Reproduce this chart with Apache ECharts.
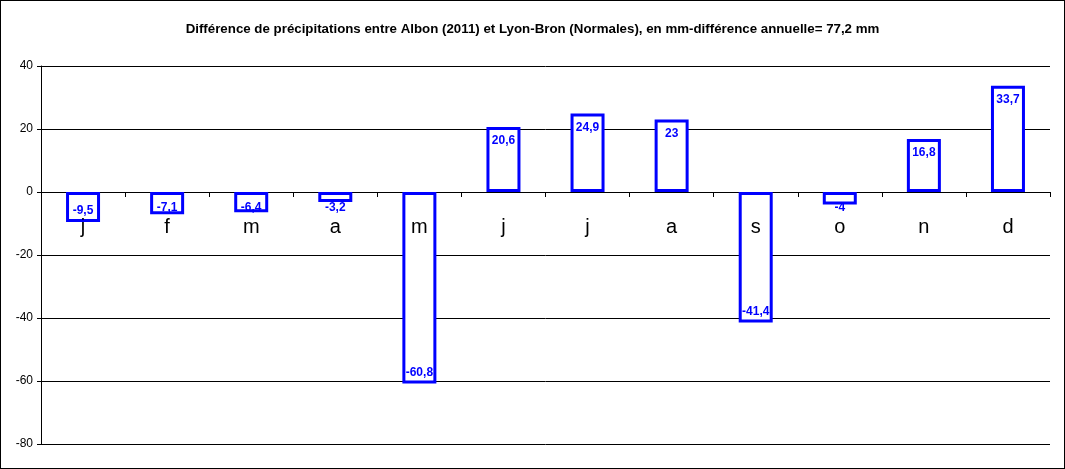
<!DOCTYPE html>
<html>
<head>
<meta charset="utf-8">
<script src="https://cdn.jsdelivr.net/npm/echarts@6/dist/echarts.min.js"></script>
<style>
html,body{margin:0;padding:0;background:#fff;}
#wrap{position:absolute;left:0;top:0;width:1063px;height:467px;border:1px solid #000;}
#c{width:1063px;height:467px;}
</style>
</head>
<body>
<div id="wrap"><div id="c"></div></div>
<script>
const titleText = "Différence de précipitations entre Albon (2011) et Lyon-Bron (Normales), en mm-différence annuelle= 77,2 mm";
const categories = ["j","f","m","a","m","j","j","a","s","o","n","d"];
const values = [-9.5, -7.1, -6.4, -3.2, -60.8, 20.6, 24.9, 23, -41.4, -4, 16.8, 33.7];
const yMin = -80, yMax = 40, yInterval = 20;

const chart = echarts.init(document.getElementById('c'), null, {renderer:'canvas'});
const fmt = v => String(v).replace('.', ',');
function labelFor(v){
  if (v >= 0) return {position:'insideTop', distance:8};
  if (Math.abs(v) < 9) return {position:'insideTop', distance:10};
  return {position:'insideBottom', distance:5};
}
// grid geometry: 40 at y=66, -80 at y=444 -> the zero line sits above the grid bottom
const gridTop = 65, gridBottom = 24;
const plotH = 467 - gridTop - gridBottom;
const zeroOffset = -plotH * (0 - yMin) / (yMax - yMin);
const labelFont = {color:'#000', fontFamily:'Liberation Sans, Arial', fontSize:20};
chart.setOption({
  animation:false,
  backgroundColor:'#fff',
  title:{
    text:titleText, left:'center', top:17,
    textStyle:{fontFamily:'Liberation Sans, Arial', fontSize:13.3, fontWeight:'bold', color:'#000'}
  },
  grid:{left:40, right:14, top:gridTop, bottom:gridBottom, containLabel:false, outerBoundsMode:'none'},
  xAxis:[{
    type:'category', data:categories,
    offset: zeroOffset,
    axisLine:{onZero:false, lineStyle:{color:'#000', width:1}},
    axisTick:{show:true, length:5, lineStyle:{color:'#000'}},
    axisLabel:{show:false},
    splitLine:{show:false}
  },{
    type:'category', data:categories, position:'bottom',
    offset: zeroOffset, z:10,
    axisLine:{show:false, onZero:false},
    axisTick:{show:false},
    axisLabel:Object.assign({margin:25}, labelFont),
    splitLine:{show:false}
  }],
  yAxis:{
    type:'value', min:yMin, max:yMax, interval:yInterval,
    axisLine:{show:true, lineStyle:{color:'#000'}},
    axisTick:{show:true, length:4, lineStyle:{color:'#000'}},
    axisLabel:{color:'#000', fontFamily:'Liberation Sans, Arial', fontSize:12, margin:8},
    splitLine:{show:true, lineStyle:{color:'#000', width:1}}
  },
  series:[{
    type:'bar',
    xAxisIndex:0,
    barWidth:34,
    data: values.map(v => ({ value:v, label:labelFor(v) })),
    itemStyle:{color:'#fff', borderColor:'#0000FF', borderWidth:3},
    label:{
      show:true, color:'#0000FF',
      fontFamily:'Liberation Sans, Arial', fontSize:12, fontWeight:'bold',
      formatter: p => fmt(p.value)
    }
  }]
});
</script>
</body>
</html>
